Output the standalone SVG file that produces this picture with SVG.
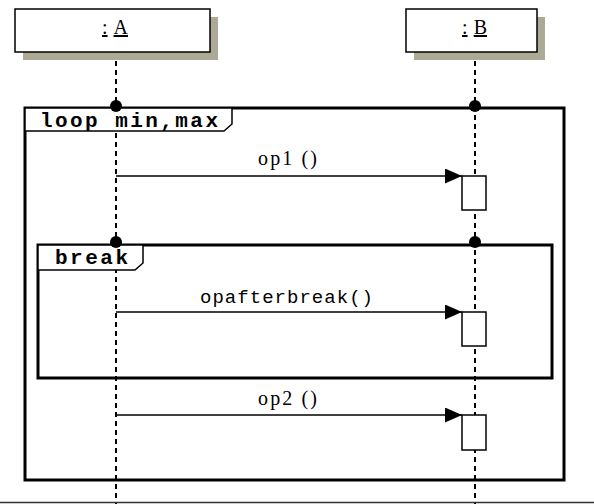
<svg xmlns="http://www.w3.org/2000/svg" width="594" height="504" viewBox="0 0 594 504">
<style>
.box{fill:#fff;stroke:#000;stroke-width:1.5}
.shadow{fill:#aca996}
.life{stroke:#000;stroke-width:2;stroke-dasharray:5,4;fill:none}
.frame{fill:none;stroke:#000;stroke-width:3}
.tag{fill:#fff;stroke:#000;stroke-width:1.5}
.msg{stroke:#000;stroke-width:1.5;fill:none}
.act{fill:#fff;stroke:#000;stroke-width:1.5}
.lbl{font-family:"Liberation Mono",monospace;font-size:19px;fill:#000}
.lbs{font-family:"Liberation Serif",serif;font-size:20px;fill:#000}
.ftag{font-family:"Liberation Mono",monospace;font-size:21px;font-weight:bold;fill:#000}
.obj{font-family:"Liberation Serif",serif;font-size:20px;fill:#000;text-decoration:underline}
</style>
<defs>
<marker id="arr" markerUnits="userSpaceOnUse" markerWidth="18" markerHeight="16" refX="17" refY="7.5" orient="auto">
<polygon points="0,0 17,7.5 0,15" fill="#000"/>
</marker>
</defs>
<rect width="594" height="504" fill="#fff"/>
<g id="lifelines">
<line class="life" x1="116" y1="52" x2="116" y2="504"/>
<line class="life" x1="475" y1="52" x2="475" y2="504"/>
</g>
<g id="objA">
<rect class="shadow" x="23" y="17" width="195" height="43"/>
<rect class="box" x="15" y="9" width="195" height="43"/>
<text class="obj" x="102" y="34" textLength="26" lengthAdjust="spacing">:A</text>
</g>
<g id="objB">
<rect class="shadow" x="414" y="17" width="131" height="43"/>
<rect class="box" x="406" y="9" width="131" height="43"/>
<text class="obj" x="462" y="34" textLength="25" lengthAdjust="spacing">:B</text>
</g>
<g id="loop">
<rect class="frame" x="25" y="108" width="539" height="372"/>
<path class="tag" d="M25,108 H232 V124 L224,131 H25 Z"/>
<text class="ftag" x="40" y="127" textLength="178" lengthAdjust="spacing">loop min,max</text>
<circle cx="116" cy="106" r="6" fill="#000"/>
<circle cx="475" cy="106" r="6" fill="#000"/>
</g>
<g id="break">
<rect class="frame" x="38" y="245" width="514" height="133"/>
<path class="tag" d="M38,245 H143 V263 L135,270 H38 Z"/>
<text class="ftag" x="55" y="264" textLength="73" lengthAdjust="spacing">break</text>
<circle cx="116" cy="242" r="6" fill="#000"/>
<circle cx="475" cy="242" r="6" fill="#000"/>
</g>
<g id="connectors">
<line class="msg" x1="116" y1="176" x2="462" y2="176" marker-end="url(#arr)"/>
<text class="lbs" x="258" y="165" textLength="59" lengthAdjust="spacing">op1 ()</text>
<line class="msg" x1="116" y1="312" x2="462" y2="312" marker-end="url(#arr)"/>
<text class="lbl" x="200" y="303" textLength="173" lengthAdjust="spacing">opafterbreak()</text>
<line class="msg" x1="116" y1="415" x2="462" y2="415" marker-end="url(#arr)"/>
<text class="lbs" x="258" y="405" textLength="59" lengthAdjust="spacing">op2 ()</text>
</g>
<g id="activations">
<rect class="act" x="462" y="176" width="24" height="34"/>
<rect class="act" x="462" y="312" width="24" height="34"/>
<rect class="act" x="462" y="415" width="24" height="35"/>
</g>
<line x1="0" y1="502.5" x2="594" y2="502.5" stroke="#333" stroke-width="1.5"/>
</svg>
